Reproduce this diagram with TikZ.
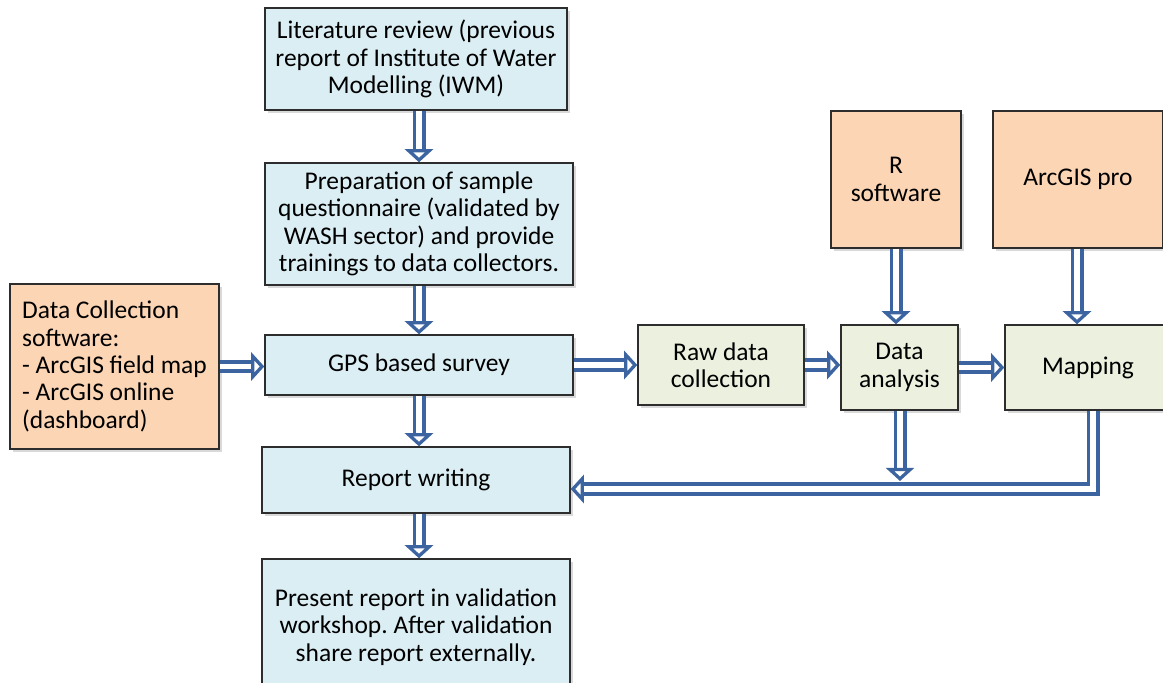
\documentclass[tikz,border=0pt]{standalone}
\usepackage{fontspec}
\setmainfont{Carlito}
\frenchspacing
\usetikzlibrary{arrows.meta,shadows}
\definecolor{boxblue}{RGB}{219,238,244}
\definecolor{boxorange}{RGB}{252,213,181}
\definecolor{boxgreen}{RGB}{235,241,222}
\definecolor{arrowblue}{RGB}{60,100,160}
\definecolor{edgegray}{RGB}{45,45,45}

\begin{document}
\begin{tikzpicture}[
  box/.style={draw=edgegray, line width=0.8pt, align=center, inner sep=2pt,
    drop shadow={shadow xshift=1.5pt, shadow yshift=-1.5pt, opacity=0.3},
    font=\fontsize{14.5}{15.6}\selectfont},
  bluebox/.style={box, fill=boxblue},
  orangebox/.style={box, fill=boxorange},
  greenbox/.style={box, fill=boxgreen},
  flow/.style={draw=arrowblue, line width=2.1pt, double=white, double distance=3.2pt,
    line join=miter, -{Triangle[open, length=7.5pt, width=16pt, line width=2pt, fill=white]}}]
  \useasboundingbox (0,0) rectangle (23.26,-13.66);
  \node[bluebox, minimum width=6.04cm, minimum height=2.04cm] (lit) at (8.32,-1.18) {Literature review (previous\\report of Institute of Water\\Modelling (IWM)};
  \node[bluebox, minimum width=6.16cm, minimum height=2.44cm] (prep) at (8.38,-4.48) {Preparation of sample\\questionnaire (validated by\\WASH sector) and provide\\trainings to data collectors.};
  \node[bluebox, minimum width=6.16cm, minimum height=1.2cm] (gps) at (8.38,-7.3) {GPS based survey};
  \node[bluebox, minimum width=6.16cm, minimum height=1.32cm] (report) at (8.32,-9.6) {Report writing};
  \node[bluebox, minimum width=6.16cm, minimum height=2.72cm] (present) at (8.32,-12.54) {Present report in validation\\workshop. After validation\\share report externally.};
  \node[orangebox, minimum width=4.18cm, minimum height=3.3cm, align=left] (dcs) at (2.29,-7.33) {Data Collection\\software:\\- ArcGIS field map\\- ArcGIS online\\(dashboard)};
  \node[greenbox, minimum width=3.32cm, minimum height=1.6cm] (raw) at (14.42,-7.3) {Raw data\\collection};
  \node[greenbox, minimum width=2.34cm, minimum height=1.7cm] (analysis) at (17.99,-7.35) {Data\\analysis};
  \node[greenbox, minimum width=3.32cm, minimum height=1.7cm] (mapping) at (21.76,-7.35) {Mapping};
  \node[orangebox, minimum width=2.6cm, minimum height=2.74cm] (rsoft) at (17.92,-3.59) {R\\software};
  \node[orangebox, minimum width=3.4cm, minimum height=2.74cm] (arcpro) at (21.56,-3.59) {ArcGIS pro};
  \coordinate (anatip) at (18.0,-9.62);
  \coordinate (mapcorner) at (21.86,-9.78);
  \draw[flow] (prep.north |- lit.south) -- (prep.north);
  \draw[flow] (prep.south) -- (gps.north);
  \draw[flow] (dcs.east) -- (dcs.east -| gps.west);
  \draw[flow] (gps.south) -- (gps.south |- report.north);
  \draw[flow] (gps.south |- report.south) -- (gps.south |- present.north);
  \draw[flow] (gps.east) -- (raw.west);
  \draw[flow] (raw.east) -- (raw.east -| analysis.west);
  \draw[flow] (analysis.east) -- (mapping.west);
  \draw[flow] (rsoft.south) -- (rsoft.south |- analysis.north);
  \draw[flow] (arcpro.south -| 21.54,0) -- (mapping.north -| 21.54,0);
  \draw[flow] (analysis.south -| anatip) -- (anatip);
  \draw[flow] (mapping.south -| mapcorner) |- (report.east |- mapcorner);
\end{tikzpicture}
\end{document}
